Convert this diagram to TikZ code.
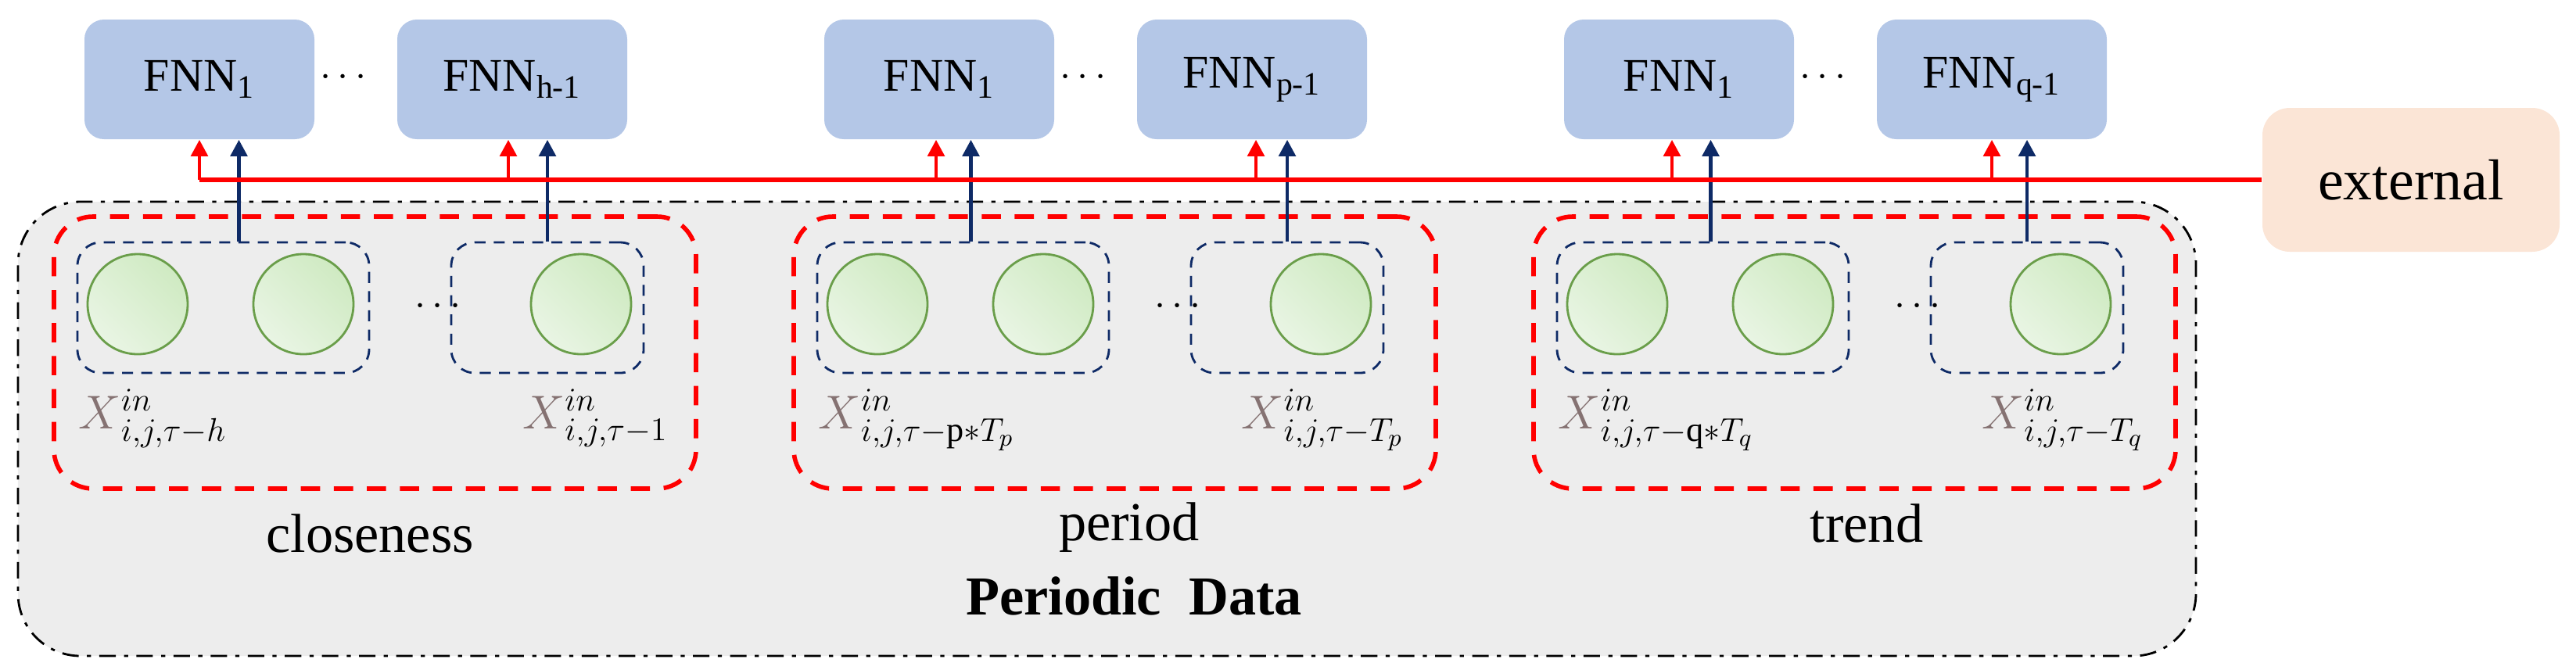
\documentclass[tikz,border=0pt]{standalone}
\usepackage{fontspec}
\setmainfont{Liberation Serif}
\usepackage{amsmath}
\usepackage{tikz}
\usetikzlibrary{positioning,arrows.meta}

\definecolor{fnnblue}{HTML}{B4C7E7}
\definecolor{extpeach}{HTML}{FBE5D6}
\definecolor{boxgray}{HTML}{EDEDED}
\definecolor{navy}{HTML}{0E2A66}
\definecolor{cellgreen}{HTML}{6A9E4A}
\definecolor{celltop}{HTML}{CFEAC2}
\definecolor{cellbot}{HTML}{E9F5E4}
\definecolor{xtaupe}{HTML}{857272}

\tikzset{
    fnn/.style={fill=fnnblue, rounded corners=0.25cm, minimum width=2.94cm, minimum height=1.53cm, font=\fontsize{17}{20}\selectfont},
    grp/.style={draw=red, line width=1.6pt, dash pattern=on 7pt off 5pt, rounded corners=0.5cm, minimum width=8.21cm, minimum height=3.48cm},
    win/.style={draw=navy, line width=0.8pt, dash pattern=on 4pt off 3pt, rounded corners=0.3cm, minimum height=1.67cm},
    cell/.style={circle, draw=cellgreen, line width=0.8pt, minimum size=1.28cm, left color=celltop, right color=cellbot, shading angle=-45},
    extarr/.style={red, line width=1.4pt, -{Triangle[length=6pt,width=6pt]}},
    inarr/.style={navy, line width=1.4pt, -{Triangle[length=6pt,width=6pt]}},
    lab/.style={font=\fontsize{20}{24}\selectfont},
    xlab/.style={font=\fontsize{18}{22}\selectfont, inner sep=0pt}
}
\newcommand{\Xin}{\textcolor{xtaupe}{X}}

\begin{document}
\begin{tikzpicture}
    \useasboundingbox (0,0) rectangle (32.94,-8.56);

    % Outer container
    \node[draw, fill=boxgray, dash pattern=on 6pt off 3pt on 1.5pt off 3pt, line width=0.8pt, rounded corners=0.8cm, minimum width=27.85cm, minimum height=5.81cm] (data) at (14.155,-5.485) {};
    \node[font=\fontsize{20}{24}\selectfont\bfseries] (datalab) at (14.5,-7.62) {Periodic\ \ Data};

    % External input
    \node[fill=extpeach, rounded corners=0.35cm, minimum width=3.8cm, minimum height=1.84cm, font=\fontsize{21}{25}\selectfont] (ext) at (30.83,-2.30) {external};

    % Closeness
    \begin{scope}
        \node[fnn] (f1a) at (2.55,-1.015) {FNN\textsubscript{1}};
        \node[fnn] (f2a) at (6.55,-1.015) {FNN\textsubscript{h-1}};
        \node[font=\Large] (fda) at (4.43,-0.99) {$\cdots$};

        \node[grp] (ga) at (4.795,-4.51) {};
        \node[win, minimum width=3.73cm] (w1a) at (2.855,-3.935) {};
        \node[win, minimum width=2.46cm] (w2a) at (7.00,-3.935) {};
        \node[cell] (c1a) at (1.76,-3.89) {};
        \node[cell] (c2a) at (3.88,-3.89) {};
        \node[cell] (c3a) at (7.43,-3.89) {};
        \node[font=\Large] (cda) at (5.64,-3.92) {$\cdots$};

        \node[xlab, anchor=base west] (x1a) at (1.0,-5.48) {$\Xin^{in}_{i,j,\tau-h}$};
        \node[xlab, anchor=base east] (x2a) at (8.55,-5.48) {$\Xin^{in}_{i,j,\tau-1}$};
        \node[lab] (la) at (4.73,-6.82) {closeness};

        \coordinate (r1a) at (2.55,-2.30);
        \coordinate (r2a) at (6.50,-2.30);
        \draw[extarr] (r1a) -- (r1a |- f1a.south);
        \draw[extarr] (r2a) -- (r2a |- f2a.south);
        \draw[inarr] ([xshift=2mm]w1a.north) -- ([xshift=2mm]w1a.north |- f1a.south);
        \draw[inarr] (w2a.north) -- (w2a.north |- f2a.south);
    \end{scope}

    % Period
    \begin{scope}[xshift=9.46cm]
        \node[fnn] (f1b) at (2.55,-1.015) {FNN\textsubscript{1}};
        \node[fnn] (f2b) at (6.55,-1.015) {FNN\textsubscript{p-1}};
        \node[font=\Large] (fdb) at (4.43,-0.99) {$\cdots$};

        \node[grp] (gb) at (4.795,-4.51) {};
        \node[win, minimum width=3.73cm] (w1b) at (2.855,-3.935) {};
        \node[win, minimum width=2.46cm] (w2b) at (7.00,-3.935) {};
        \node[cell] (c1b) at (1.76,-3.89) {};
        \node[cell] (c2b) at (3.88,-3.89) {};
        \node[cell] (c3b) at (7.43,-3.89) {};
        \node[font=\Large] (cdb) at (5.64,-3.92) {$\cdots$};

        \node[xlab, anchor=base west] (x1b) at (1.0,-5.48) {$\Xin^{in}_{i,j,\tau-\mathrm{p}*T_p}$};
        \node[xlab, anchor=base east] (x2b) at (8.5,-5.48) {$\Xin^{in}_{i,j,\tau-T_p}$};
        \node[lab] (lb) at (4.98,-6.75) {period};

        \coordinate (r1b) at (2.51,-2.30);
        \coordinate (r2b) at (6.60,-2.30);
        \draw[extarr] (r1b) -- (r1b |- f1b.south);
        \draw[extarr] (r2b) -- (r2b |- f2b.south);
        \draw[inarr] ([xshift=1mm]w1b.north) -- ([xshift=1mm]w1b.north |- f1b.south);
        \draw[inarr] (w2b.north) -- (w2b.north |- f2b.south);
    \end{scope}

    % Trend
    \begin{scope}[xshift=18.92cm]
        \node[fnn] (f1c) at (2.55,-1.015) {FNN\textsubscript{1}};
        \node[fnn] (f2c) at (6.55,-1.015) {FNN\textsubscript{q-1}};
        \node[font=\Large] (fdc) at (4.43,-0.99) {$\cdots$};

        \node[grp] (gc) at (4.795,-4.51) {};
        \node[win, minimum width=3.73cm] (w1c) at (2.855,-3.935) {};
        \node[win, minimum width=2.46cm] (w2c) at (7.00,-3.935) {};
        \node[cell] (c1c) at (1.76,-3.89) {};
        \node[cell] (c2c) at (3.88,-3.89) {};
        \node[cell] (c3c) at (7.43,-3.89) {};
        \node[font=\Large] (cdc) at (5.64,-3.92) {$\cdots$};

        \node[xlab, anchor=base west] (x1c) at (1.0,-5.48) {$\Xin^{in}_{i,j,\tau-\mathrm{q}*T_q}$};
        \node[xlab, anchor=base east] (x2c) at (8.5,-5.48) {$\Xin^{in}_{i,j,\tau-T_q}$};
        \node[lab] (lc) at (4.95,-6.69) {trend};

        \coordinate (r1c) at (2.46,-2.30);
        \coordinate (r2c) at (6.55,-2.30);
        \draw[extarr] (r1c) -- (r1c |- f1c.south);
        \draw[extarr] (r2c) -- (r2c |- f2c.south);
        \draw[inarr] ([xshift=1mm]w1c.north) -- ([xshift=1mm]w1c.north |- f1c.south);
        \draw[inarr] (w2c.north) -- (w2c.north |- f2c.south);
    \end{scope}

    % External feed line
    \draw[red, line width=1.6pt] (r1a) -- (ext.west);

\end{tikzpicture}
\end{document}
